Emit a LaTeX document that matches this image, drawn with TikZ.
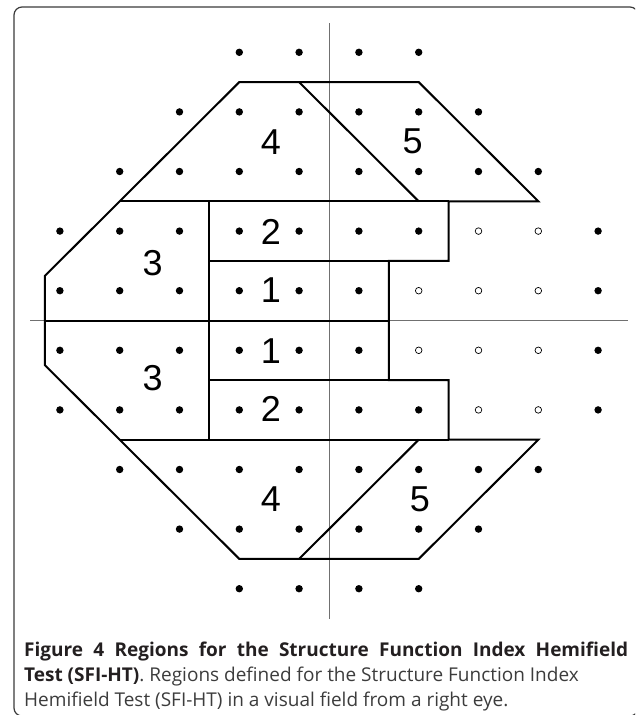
\documentclass[tikz,border=0pt]{standalone}
\usepackage{fontspec}
\setmainfont{Liberation Sans}
\newfontfamily\capfont{Open Sans}
\definecolor{framegray}{HTML}{3A3A3A}
\definecolor{capbold}{HTML}{231F20}
\definecolor{captext}{HTML}{3C3C3C}
\definecolor{axisgray}{HTML}{707070}
\tikzset{
  frame/.style={draw=framegray, line width=1.2pt, rounded corners=8pt},
  axisline/.style={draw=axisgray, line width=0.9pt},
  region/.style={draw=black, line width=2pt},
  fdot/.style={fill=black},
  odot/.style={draw=black, line width=0.7pt, fill=white},
  lbl/.style={inner sep=0pt, font=\fontsize{36}{40}\selectfont},
  captxt/.style={anchor=base west, inner sep=0pt, font=\capfont\fontsize{19}{22}\selectfont}
}
\begin{document}
\begin{tikzpicture}[x=1pt,y=1pt]
\useasboundingbox (0,0) rectangle (635,-715);
\clip (0,0) rectangle (635,-715);
\draw[frame] (14,-7) rectangle (638,-716);
\begin{scope}[shift={(329pt,-320.5pt)}, x=59.8pt, y=59.6pt]
  % axes
  \draw[axisline] (-5,0) -- (5,0);
  \draw[axisline] (0,-5) -- (0,5);
  % filled dots
  \foreach \y in {4.5,-4.5}{\foreach \x in {-1.5,-0.5,0.5,1.5}{\fill[fdot] (\x,\y) circle[radius=3.7pt];}}
  \foreach \y in {3.5,-3.5}{\foreach \x in {-2.5,-1.5,-0.5,0.5,1.5,2.5}{\fill[fdot] (\x,\y) circle[radius=3.7pt];}}
  \foreach \y in {2.5,-2.5}{\foreach \x in {-3.5,-2.5,-1.5,-0.5,0.5,1.5,2.5,3.5}{\fill[fdot] (\x,\y) circle[radius=3.7pt];}}
  \foreach \y in {1.5,-1.5}{\foreach \x in {-4.5,-3.5,-2.5,-1.5,-0.5,0.5,1.5,4.5}{\fill[fdot] (\x,\y) circle[radius=3.7pt];}
    \foreach \x in {2.5,3.5}{\draw[odot] (\x,\y) circle[radius=3.3pt];}}
  \foreach \y in {0.5,-0.5}{\foreach \x in {-4.5,-3.5,-2.5,-1.5,-0.5,0.5,4.5}{\fill[fdot] (\x,\y) circle[radius=3.7pt];}
    \foreach \x in {1.5,2.5,3.5}{\draw[odot] (\x,\y) circle[radius=3.3pt];}}
  % region outlines
  \draw[region] (-4.75,0.75) -- (-1.5,4) -- (1.5,4) -- (3.5,2) -- (2,2) -- (2,1) -- (1,1) -- (1,-1)
     -- (2,-1) -- (2,-2) -- (3.5,-2) -- (1.5,-4) -- (-1.5,-4) -- (-4.75,-0.75) -- cycle;
  \draw[region] (-3.5,2) -- (2,2);
  \draw[region] (-3.5,-2) -- (2,-2);
  \draw[region] (-2,2) -- (-2,-2);
  \draw[region] (-2,1) -- (1,1);
  \draw[region] (-2,-1) -- (1,-1);
  \draw[region] (-4.75,0) -- (1,0);
  \draw[region] (-0.5,4) -- (1.5,2);
  \draw[region] (-0.5,-4) -- (1.5,-2);
  % labels
  \node[lbl] (u4) at (-0.97,3) {4};
  \node[lbl] (u5) at (1.4,3) {5};
  \node[lbl] (u3) at (-2.95,0.97) {3};
  \node[lbl] (u2) at (-0.97,1.49) {2};
  \node[lbl] (u1) at (-0.97,0.51) {1};
  \node[lbl] (l1) at (-0.97,-0.51) {1};
  \node[lbl] (l2) at (-0.97,-1.49) {2};
  \node[lbl] (l3) at (-2.95,-0.97) {3};
  \node[lbl] (l4) at (-0.97,-3) {4};
  \node[lbl] (l5) at (1.52,-3) {5};
\end{scope}
% caption
\node[captxt, text=capbold] (cap1) at (24,-656) {\makebox[604pt][s]{\bfseries Figure 4 Regions for the Structure Function Index Hemifield}};
\node[captxt, text=captext] (cap2) at (24,-681) {{\color{capbold}\bfseries Test (SFI-HT)}. Regions defined for the Structure Function Index};
\node[captxt, text=captext] (cap3) at (24,-706) {Hemifield Test (SFI-HT) in a visual field from a right eye.};
\end{tikzpicture}
\end{document}
